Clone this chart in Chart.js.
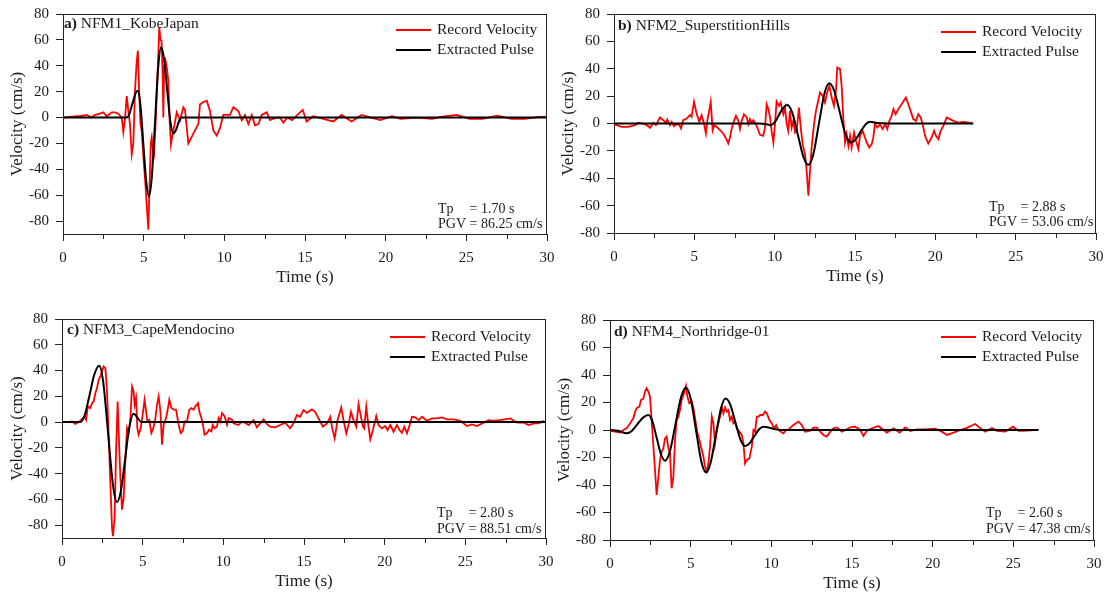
<!DOCTYPE html>
<html><head><meta charset="utf-8">
<script src="https://cdn.jsdelivr.net/npm/chart.js@4.4.1/dist/chart.umd.min.js"></script>
<style>
html,body{margin:0;padding:0;background:#fff;overflow:hidden;width:1106px;height:593px;position:relative;}
canvas{position:absolute;}
</style></head><body>
<canvas id="p0"></canvas><canvas id="p1"></canvas><canvas id="p2"></canvas><canvas id="p3"></canvas>
<script>
// ---------- tick labels / text ----------
const xMajorTicks = [0, 5, 10, 15, 20, 25, 30];
const xMinorTicks = [2.5, 7.5, 12.5, 17.5, 22.5, 27.5];
const yTicks = [-80, -60, -40, -20, 0, 20, 40, 60, 80];
const seriesNames = ['Record Velocity', 'Extracted Pulse'];
const panelLabels = ['a)', 'b)', 'c)', 'd)'];
const eventNames = ['NFM1_KobeJapan', 'NFM2_SuperstitionHills', 'NFM3_CapeMendocino', 'NFM4_Northridge-01'];
const tpValues = ['1.70', '2.88', '2.80', '2.60'];
const pgvValues = ['86.25', '53.06', '88.51', '47.38'];

// ---------- series: [time (s), velocity (cm/s)] ----------
const kobeRecord = [[0,0],[0.85,1],[1.05,1],[1.47,2],[1.78,0],[1.98,2],[2.29,3],[2.5,4],[2.71,1],[3.02,4],[3.22,4],[3.43,3],[3.64,0],[3.74,-11],[3.85,0],[3.95,16.5],[4.05,5],[4.15,-5],[4.26,-28.4],[4.36,-20],[4.46,20],[4.55,40],[4.64,51.7],[4.72,20],[4.8,-5],[4.88,-10.3],[4.98,-30],[5.1,-50],[5.2,-70],[5.29,-86.6],[5.36,-55],[5.44,-20],[5.5,-15.5],[5.57,-25],[5.64,-28.4],[5.72,-10],[5.85,30],[5.97,69.8],[6.04,60],[6.11,59.4],[6.17,35],[6.22,0],[6.27,40],[6.32,46.5],[6.42,40],[6.53,28.4],[6.6,0],[6.69,-20.7],[6.77,-15],[6.84,-10.3],[7.05,4],[7.25,-2],[7.46,8],[7.56,6],[7.77,-20],[7.98,-15],[8.18,-10],[8.39,-5],[8.49,10],[8.7,12],[8.91,13],[9.11,5],[9.32,-10],[9.53,-14],[9.73,-8],[9.94,2],[10.35,2],[10.56,8],[10.87,5],[11.08,-2],[11.28,2],[11.49,-5],[11.7,2],[11.9,-6],[12.11,-5],[12.32,2],[12.63,4],[12.83,-2],[13.25,0],[13.45,0],[13.66,-4],[13.9,0],[14.2,-2],[14.69,4],[14.86,6],[15.1,-3],[15.51,1],[16.13,-1],[16.75,-3],[17.27,2],[17.89,-3],[18.51,2],[19.1,0],[19.67,-2],[20.39,1],[20.91,-1],[21.94,0],[22.9,-1],[23.4,0.5],[24.4,2],[25.2,-1],[26.0,-1],[26.9,1.5],[27.8,-1],[28.6,-1],[29.5,0.5],[30,0.5]];
const kobePulse = [[0,0],[3.95,0],[4.1,2.4],[4.3,10.6],[4.5,18.7],[4.63,20.6],[4.8,9.6],[5.0,-23.8],[5.15,-48.3],[5.33,-60.8],[5.5,-46.7],[5.7,-4.4],[5.9,38.7],[6.08,54.3],[6.25,46.3],[6.45,22.3],[6.65,-2.6],[6.84,-12.4],[7.0,-9.7],[7.2,-2.7],[7.36,0],[30,0]];

const superRecord = [[0,-0.5],[0.17,-1.2],[0.48,-2.4],[0.89,-2.4],[1.31,-1.2],[1.51,0.5],[1.82,0],[2.14,-1.9],[2.24,-3.2],[2.45,0.5],[2.61,-1.2],[2.86,4.4],[3.07,2.4],[3.24,0.5],[3.32,2.9],[3.48,-1.2],[3.59,1.2],[3.73,-1.9],[3.9,-0.5],[4.07,-1.2],[4.17,-3.6],[4.31,2.4],[4.52,3.6],[4.73,6.1],[4.83,4.9],[4.98,15.8],[5.14,7.3],[5.31,1.2],[5.45,6.1],[5.6,0],[5.72,-7.3],[5.81,2.4],[5.93,9.7],[6.02,15.8],[6.14,-4.9],[6.24,-1.2],[6.39,-2.4],[6.6,-4.9],[6.8,-7.3],[6.97,-10.9],[7.11,-14.6],[7.22,-10.2],[7.32,-4.1],[7.47,1.9],[7.59,5.6],[7.74,1.9],[7.84,-4.1],[7.95,1.9],[8.09,6.8],[8.26,4.4],[8.36,-0.5],[8.46,3.2],[8.57,0.7],[8.67,2.4],[8.88,-1.7],[9.09,-8.3],[9.29,-9.0],[9.4,-2.9],[9.5,14.1],[9.61,10.5],[9.71,4.4],[9.81,-5.4],[9.92,-13.9],[10.02,-0.5],[10.12,16.1],[10.27,12.9],[10.37,15.3],[10.54,6.8],[10.64,11.7],[10.75,-0.5],[10.85,-5.4],[10.95,9.2],[11.06,-2.9],[11.16,1.9],[11.27,-6.6],[11.37,-5.4],[11.51,11.7],[11.62,-2.9],[11.74,-15.1],[11.89,-22.4],[11.99,-34.5],[12.1,-52.8],[12.2,-34.5],[12.3,-17.5],[12.45,-0.5],[12.57,9.2],[12.66,14.1],[12.82,22.6],[12.99,20.2],[13.13,15.3],[13.24,21.4],[13.4,27.5],[13.55,19.0],[13.69,12.9],[13.82,25.1],[13.9,40.9],[14.07,39.7],[14.17,27.5],[14.27,4.4],[14.38,-13.9],[14.48,-7.8],[14.59,-16.3],[14.69,-9.0],[14.79,-17.5],[14.94,-6.6],[15.06,-12.7],[15.21,-18.7],[15.31,-9.0],[15.48,-5.4],[15.62,-10.2],[15.73,-13.9],[15.89,-17.5],[16.04,-15.1],[16.14,-10.2],[16.24,-0.5],[16.39,-2.9],[16.56,-0.5],[16.72,-4.1],[16.87,-0.5],[17.01,-4.1],[17.14,1.9],[17.28,5.6],[17.39,10.5],[17.53,6.8],[17.7,10.5],[17.84,12.9],[18.01,16.1],[18.17,19.0],[18.32,14.1],[18.46,9.2],[18.63,3.2],[18.8,1.9],[18.94,6.8],[19.09,4.4],[19.21,-0.5],[19.36,-9.0],[19.56,-14.6],[19.77,-10.2],[19.92,-5.4],[20.04,-9.0],[20.19,-11.4],[20.33,-5.4],[20.5,-1.7],[20.71,4.4],[20.91,3.2],[21.12,1.9],[21.43,0.7],[21.74,1.2],[22.05,0.7],[22.32,0]];
const superPulse = [[0,0],[9.0,0],[9.5,-0.5],[9.75,-1.2],[10.0,0.8],[10.25,5.8],[10.5,10.9],[10.79,13.6],[11.1,7.8],[11.45,-8.5],[11.8,-24.7],[12.1,-30.2],[12.4,-22.8],[12.75,-0.4],[13.1,22],[13.4,29.4],[13.7,24.1],[14.05,8.4],[14.4,-7.6],[14.73,-13.9],[15.05,-11.4],[15.4,-4.9],[15.7,-0.2],[15.93,1.2],[16.4,0.3],[17,0],[22.36,0]];

const capeRecord = [[0,0],[0.41,0],[0.62,0.5],[0.83,-1.5],[1.03,0],[1.14,1],[1.28,3.1],[1.4,4.4],[1.49,1.8],[1.61,12.1],[1.76,10.9],[1.86,14.7],[1.96,16.0],[2.07,22.5],[2.17,26.4],[2.27,32.8],[2.38,35.4],[2.48,39.3],[2.58,43.2],[2.69,41.9],[2.79,23.8],[2.89,-9.8],[3.0,-48.6],[3.1,-82.2],[3.16,-88.6],[3.26,-74.4],[3.35,-22.7],[3.45,16.0],[3.51,-7.2],[3.62,-43.4],[3.72,-68.0],[3.82,-59.4],[3.93,-28.4],[4.03,-4.7],[4.13,-8.5],[4.24,3.1],[4.34,27.6],[4.44,23.8],[4.5,13.4],[4.59,18.6],[4.67,-4.7],[4.75,-9.8],[4.88,-4.7],[5.0,5.7],[5.12,17.3],[5.21,8.3],[5.29,0.5],[5.41,1.8],[5.54,-8.5],[5.66,-4.7],[5.79,3.1],[5.89,13.4],[5.99,19.9],[6.1,8.3],[6.2,-17.6],[6.3,-2.1],[6.45,3.1],[6.57,10.9],[6.65,17.3],[6.78,10.9],[6.92,9.6],[7.07,9.6],[7.23,-2.1],[7.36,-8.5],[7.48,-7.2],[7.6,0.5],[7.75,0.5],[7.89,9.6],[8.02,10.9],[8.16,9.6],[8.26,12.1],[8.43,14.7],[8.51,8.3],[8.64,3.1],[8.72,-0.8],[8.84,-9.8],[8.99,-8.5],[9.13,-5.9],[9.26,-7.2],[9.34,-2.1],[9.46,-4.7],[9.61,-3.4],[9.71,3.1],[9.81,0.5],[9.92,7.0],[10.08,4.4],[10.23,-2.1],[10.33,3.1],[10.54,1.8],[10.63,-1.0],[10.94,-2.3],[11.14,0.3],[11.35,-0.5],[11.56,-2.3],[11.87,1.5],[12.08,-4.1],[12.28,-1.0],[12.49,2.1],[12.7,-1.6],[12.9,-3.6],[13.21,-4.1],[13.52,-2.3],[13.83,-0.5],[14.14,-4.9],[14.35,-1.0],[14.56,5.4],[14.76,4.1],[14.97,9.3],[15.18,7.2],[15.49,9.8],[15.69,8.0],[15.9,2.8],[16.17,-3.6],[16.42,-1.0],[16.63,4.1],[16.73,-3.6],[16.9,-12.7],[17.08,1.5],[17.31,11.4],[17.45,1.5],[17.62,-8.8],[17.76,-2.3],[17.91,8.0],[18.07,1.5],[18.24,-3.6],[18.38,14.0],[18.49,6.7],[18.65,-3.6],[18.73,-4.9],[18.86,11.9],[19.0,-3.6],[19.11,-13.4],[19.27,-6.2],[19.48,4.7],[19.62,-2.3],[19.83,-4.9],[20.04,-3.1],[20.18,-6.2],[20.35,-2.3],[20.55,-7.5],[20.76,-2.3],[20.92,-6.2],[21.07,-8.3],[21.22,-3.6],[21.38,-8.8],[21.55,-2.3],[21.69,4.1],[21.9,3.6],[22.1,1.5],[22.31,4.1],[22.62,1.0],[22.93,2.8],[23.24,2.8],[23.55,3.6],[23.86,2.1],[24.28,2.1],[24.69,1.0],[25.1,-3.1],[25.41,-1.8],[25.72,-3.1],[26.04,-1.0],[26.45,1.5],[26.76,1.0],[27.17,1.5],[27.79,2.8],[28.2,-0.5],[28.62,-0.5],[28.93,-2.3],[29.24,-1.0],[29.55,-1.0],[29.86,1.0]];
const capePulse = [[0,0],[1.14,0],[1.4,5.1],[1.7,20.5],[2.0,36.7],[2.31,43.7],[2.55,31.5],[2.85,-7.6],[3.15,-47.9],[3.41,-62],[3.65,-53.4],[3.9,-30.1],[4.15,-5.8],[4.44,6.5],[4.7,3],[4.92,0],[30,0]];

const northRecord = [[0,-0.5],[0.31,-1.2],[0.62,-1.9],[0.83,0],[1.03,1.2],[1.24,4.8],[1.45,8.5],[1.55,13.3],[1.65,15.8],[1.82,17.0],[1.92,21.8],[2.07,23.0],[2.17,27.9],[2.27,30.3],[2.38,27.9],[2.48,24.2],[2.58,7.3],[2.69,-12.1],[2.79,-29.1],[2.89,-47.3],[3.0,-33.9],[3.1,-21.8],[3.2,-15.8],[3.31,-13.3],[3.41,-6.1],[3.51,-4.8],[3.62,-13.3],[3.72,-17.0],[3.82,-42.4],[3.93,-33.9],[4.03,-7.3],[4.13,7.3],[4.24,9.7],[4.34,14.5],[4.44,21.8],[4.59,26.7],[4.71,32.0],[4.8,24.2],[4.92,19.4],[5.07,20.6],[5.17,15.8],[5.29,7.3],[5.42,-2.4],[5.54,-7.3],[5.69,-14.5],[5.79,-19.4],[5.89,-26.7],[6.0,-30.3],[6.1,-24.2],[6.2,-12.1],[6.31,9.7],[6.41,4.8],[6.51,-9.7],[6.62,0],[6.72,4.8],[6.82,9.7],[6.95,15.8],[7.03,12.1],[7.13,16.5],[7.24,13.3],[7.34,14.5],[7.44,7.3],[7.55,9.7],[7.65,4.8],[7.75,6.1],[7.86,1.2],[8.02,-1.2],[8.17,-3.6],[8.27,-9.7],[8.37,-24.2],[8.48,-21.8],[8.64,-20.6],[8.79,-12.1],[8.89,0],[8.99,-1.2],[9.1,9.7],[9.2,9.7],[9.3,10.9],[9.47,10.9],[9.61,13.3],[9.72,12.1],[9.88,7.3],[10.03,4.8],[10.17,1.2],[10.3,3.6],[10.44,0],[10.59,-1.2],[10.75,-2.4],[10.92,0],[11.06,0.5],[11.37,3.6],[11.68,6.1],[11.89,3.6],[12.1,-1.2],[12.41,-0.5],[12.61,1.7],[12.82,1.7],[13.03,-1.2],[13.23,-3.6],[13.44,-4.8],[13.65,-1.2],[13.85,1.2],[14.06,1.9],[14.37,-1.2],[14.68,0.5],[14.89,1.9],[15.2,2.4],[15.51,0],[15.71,-4.4],[15.92,-0.5],[16.23,1.2],[16.64,2.9],[16.96,0],[17.16,-1.9],[17.58,1.2],[17.95,-1.9],[18.3,1.9],[18.61,-0.7],[19.02,0.5],[19.44,0.5],[20.16,1.0],[20.57,-1.2],[20.88,-3.6],[21.3,-1.9],[21.71,0],[22.12,1.5],[22.64,4.4],[22.95,1.2],[23.26,-1.2],[23.68,1.5],[23.99,-0.7],[24.5,-1.2],[24.98,2.4],[25.33,-0.7],[25.85,-0.5],[26.26,0]];
const northPulse = [[0,0],[0.5,-0.6],[1.03,-2.4],[1.35,-0.7],[1.7,4.2],[2.05,9.0],[2.38,10.9],[2.62,6.7],[2.9,-6.0],[3.17,-18.0],[3.41,-22.3],[3.71,-15.7],[4.06,4.25],[4.41,24.2],[4.71,30.8],[5.0,22.9],[5.33,0],[5.66,-22.9],[5.95,-30.8],[6.23,-24.1],[6.56,-3.9],[6.89,16.3],[7.17,23],[7.45,18.6],[7.77,5.7],[8.09,-7.1],[8.37,-11.6],[8.64,-9.8],[8.94,-4.6],[9.24,0.5],[9.51,2.4],[10.0,1.3],[10.6,0],[26.57,0]];

const recordSeries = [kobeRecord, superRecord, capeRecord, northRecord];
const pulseSeries = [kobePulse, superPulse, capePulse, northPulse];

// ---------- layout ----------
const FONT = "'Liberation Serif', 'Times New Roman', serif";
Chart.defaults.font.family = FONT;
Chart.defaults.color = '#1a1a1a';

const layouts = [
  {left: 0,   top: -4,  w: 565, h: 298, yW: 63, yMin: -90, titleDx: 1, titleDy: 10, legendDx: 110, legendDy: 15, statsDx: 109, s1: -25, s2: -10},
  {left: 551, top: -4,  w: 563, h: 297, yW: 63, yMin: -80, titleDx: 4, titleDy: 12, legendDx: 114, legendDy: 17, statsDx: 107, s1: -26, s2: -11},
  {left: 0,   top: 301, w: 564, h: 297, yW: 62, yMin: -90, titleDx: 5, titleDy: 11, legendDx: 115, legendDy: 17, statsDx: 109, s1: -25, s2: -9},
  {left: 547, top: 302, w: 565, h: 298, yW: 63, yMin: -80, titleDx: 4, titleDy: 12, legendDx: 112, legendDy: 16, statsDx: 108, s1: -27, s2: -11}
];

const decorPlugin = {
  id: 'decor',
  afterDraw(chart, args, o) {
    const {ctx, chartArea: a} = chart;
    const xs = chart.scales.x;
    ctx.save();
    ctx.strokeStyle = '#222'; ctx.lineWidth = 1;
    ctx.beginPath();
    ctx.moveTo(a.left, a.top + 0.5); ctx.lineTo(a.right, a.top + 0.5);
    ctx.moveTo(a.right - 0.5, a.top); ctx.lineTo(a.right - 0.5, a.bottom);
    xMinorTicks.forEach(v => {
      const px = Math.round(xs.getPixelForValue(v)) + 0.5;
      ctx.moveTo(px, a.bottom); ctx.lineTo(px, a.bottom + 5);
    });
    ctx.stroke();

    ctx.fillStyle = '#1a1a1a'; ctx.textBaseline = 'middle'; ctx.textAlign = 'left';
    let tx = a.left + o.titleDx; const ty = a.top + o.titleDy;
    ctx.font = 'bold 15.5px ' + FONT;
    ctx.fillText(o.label, tx, ty);
    tx += ctx.measureText(o.label).width;
    ctx.font = '15.5px ' + FONT;
    tx += ctx.measureText(' ').width;
    ctx.fillText(o.name, tx, ty);

    ctx.font = '15.5px ' + FONT;
    chart.data.datasets.forEach((ds, i) => {
      const lx = a.right - o.legendDx, ly = a.top + o.legendDy + 1 + i * 20;
      ctx.strokeStyle = ds.borderColor; ctx.lineWidth = 2;
      ctx.beginPath(); ctx.moveTo(lx - 41, ly); ctx.lineTo(lx - 6, ly); ctx.stroke();
      ctx.fillText(ds.label, lx, ly);
    });

    ctx.font = '14px ' + FONT;
    const sx = a.right - o.statsDx;
    const off = ctx.measureText('PGV ').width;
    ctx.fillText('Tp', sx, a.bottom + o.s1);
    ctx.fillText('= ' + o.tp + ' s', sx + off, a.bottom + o.s1);
    ctx.fillText('PGV = ' + o.pgv + ' cm/s', sx, a.bottom + o.s2);
    ctx.restore();
  }
};

layouts.forEach((L, i) => {
  const cv = document.getElementById('p' + i);
  cv.width = L.w; cv.height = L.h;
  cv.style.left = L.left + 'px'; cv.style.top = L.top + 'px';
  cv.style.width = L.w + 'px'; cv.style.height = L.h + 'px';
  new Chart(cv, {
    type: 'line',
    data: {
      datasets: [
        {label: seriesNames[0], data: recordSeries[i].map(p => ({x: p[0], y: p[1]})),
         borderColor: '#ff0000', borderWidth: 1.8, pointRadius: 0, tension: 0, order: 1},
        {label: seriesNames[1], data: pulseSeries[i].map(p => ({x: p[0], y: p[1]})),
         borderColor: '#000000', borderWidth: 2, pointRadius: 0, cubicInterpolationMode: 'monotone', order: 0}
      ]
    },
    options: {
      responsive: false, animation: false, devicePixelRatio: 1,
      layout: {padding: {top: 18, right: 18, left: 0, bottom: 0}},
      plugins: {
        legend: {display: false}, tooltip: {enabled: false},
        decor: {label: panelLabels[i], name: eventNames[i], tp: tpValues[i], pgv: pgvValues[i],
                titleDx: L.titleDx, titleDy: L.titleDy, legendDx: L.legendDx, legendDy: L.legendDy,
                statsDx: L.statsDx, s1: L.s1, s2: L.s2}
      },
      scales: {
        x: {
          type: 'linear', min: 0, max: 30,
          afterBuildTicks: s => { s.ticks = xMajorTicks.map(v => ({value: v})); },
          afterFit: s => { s.height = 60; },
          ticks: {font: {size: 15, family: FONT}, color: '#1a1a1a', padding: 8, maxRotation: 0, autoSkip: false},
          grid: {drawOnChartArea: false, drawTicks: true, tickLength: 7, tickColor: '#222', color: '#222'},
          border: {display: true, color: '#222', width: 1},
          title: {display: true, text: 'Time (s)', font: {size: 17, family: FONT}, color: '#1a1a1a', padding: {top: 0, bottom: 6}}
        },
        y: {
          type: 'linear', min: L.yMin, max: 80,
          afterBuildTicks: s => { s.ticks = yTicks.map(v => ({value: v})); },
          afterFit: s => { s.width = L.yW; },
          ticks: {font: {size: 15, family: FONT}, color: '#1a1a1a', padding: 7, autoSkip: false},
          grid: {drawOnChartArea: false, drawTicks: true, tickLength: 7, tickColor: '#222', color: '#222'},
          border: {display: true, color: '#222', width: 1},
          title: {display: true, text: 'Velocity (cm/s)', font: {size: 17, family: FONT}, color: '#1a1a1a', padding: {top: 7, bottom: 0}}
        }
      }
    },
    plugins: [decorPlugin]
  });
});
</script>
</body></html>
